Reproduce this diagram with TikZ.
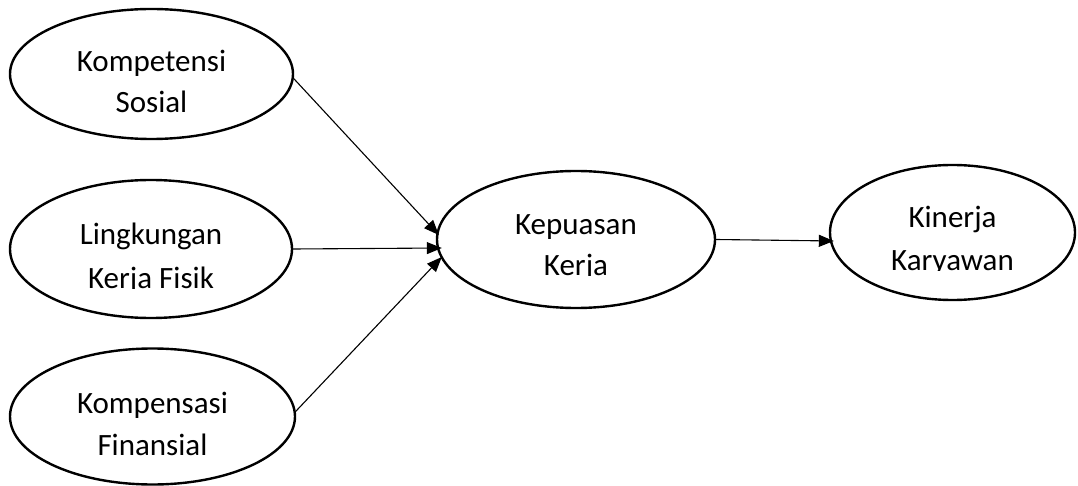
\documentclass[tikz,border=0pt]{standalone}
\usepackage{fontspec}
\setmainfont{Carlito}
\usetikzlibrary{shapes.geometric,arrows.meta,calc}

% two-line label inside a variable; the second line is cut at its baseline
% #1 node, #2 first line, #3 second line, #4 / #5 baseline offsets
\newcommand\varlabel[5]{%
  \node[txt] (#1-a) at ($(#1)+(0,#4)$) {#2};
  \begin{scope}
    \clip ($(#1)+(-130,0)$) rectangle ($(#1)+(130,#5)$);
    \node[txt] (#1-b) at ($(#1)+(0,#5)$) {#3};
  \end{scope}}

\begin{document}
\begin{tikzpicture}[x=1pt,y=-1pt,
  var/.style={draw, ellipse, line width=2.4pt, inner sep=0pt},
  txt/.style={font=\fontsize{31}{42}\selectfont, inner sep=0pt, anchor=base},
  link/.style={line width=1.1pt, -{Triangle[length=15pt,width=12pt]}}]
\useasboundingbox (0,0) rectangle (1078,486);

% latent variables
\node[var, minimum width=283, minimum height=130] (ks) at (151.5,74) {};
\node[var, minimum width=282, minimum height=138] (lk) at (151,249) {};
\node[var, minimum width=285, minimum height=136] (kf) at (152.5,416.5) {};
\node[var, minimum width=278, minimum height=137] (kp) at (576,239.5) {};
\node[var, minimum width=245, minimum height=135] (kk) at (952.5,232.5) {};

\varlabel{ks}{Kompetensi}{Sosial}{-2}{39}
\varlabel{lk}{Lingkungan}{Kerja Fisik}{-4}{39}
\varlabel{kf}{Kompensasi}{Finansial}{-3.5}{38.5}
\varlabel{kp}{Kepuasan}{Kerja}{-4.5}{35.5}
\varlabel{kk}{Kinerja}{Karyawan}{-4.5}{37.5}

% paths
\draw[link] ($(ks.east)+(-1,4)$) -- ($(kp.west)+(3,-4.5)$);
\draw[link] (lk.east) -- ($(kp.west)+(6,8.5)$);
\draw[link] ($(kf.east)+(-2,-3.5)$) -- ($(kp.west)+(6,17.5)$);
\draw[link] (kp.east) -- ($(kk.west)+(5,8.5)$);
\end{tikzpicture}
\end{document}
